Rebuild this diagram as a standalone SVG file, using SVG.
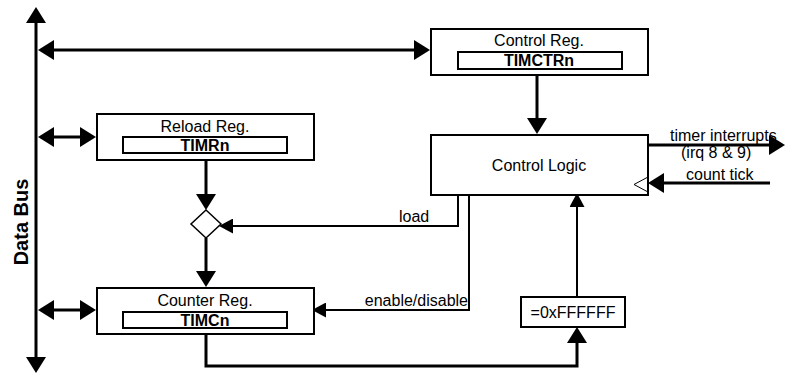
<svg xmlns="http://www.w3.org/2000/svg" width="786" height="375" viewBox="0 0 786 375">
<defs>
<marker id="big" markerUnits="userSpaceOnUse" markerWidth="16" markerHeight="20" refX="8" refY="10" orient="auto-start-reverse"><path d="M0,0 L16,10 L0,20 Z" fill="#000"/></marker>
<marker id="small" markerUnits="userSpaceOnUse" markerWidth="14" markerHeight="15" refX="6" refY="7.5" orient="auto-start-reverse"><path d="M0,0 L14,7.5 L0,15 Z" fill="#000"/></marker>
</defs>
<style>
.box{fill:#fff;stroke:#000;stroke-width:2}
.inner{fill:#fff;stroke:#000;stroke-width:2}
.thick{fill:none;stroke:#000;stroke-width:3}
.thin{fill:none;stroke:#000;stroke-width:2}
text{font-family:"Liberation Sans",Arial,sans-serif;font-size:16px;fill:#000}
.b{font-weight:bold}
.c{text-anchor:middle}
</style>
<g id="connectors">
<line class="thick" x1="36" y1="15" x2="36" y2="365" marker-start="url(#big)" marker-end="url(#big)"/>
<line class="thick" x1="46" y1="50" x2="422" y2="50" marker-start="url(#big)" marker-end="url(#big)"/>
<line class="thick" x1="46" y1="137" x2="88" y2="137" marker-start="url(#big)" marker-end="url(#big)"/>
<line class="thick" x1="46" y1="310" x2="88" y2="310" marker-start="url(#big)" marker-end="url(#big)"/>
<line class="thick" x1="537" y1="75" x2="537" y2="126" marker-end="url(#big)"/>
<line class="thick" x1="648" y1="145" x2="777" y2="145" marker-end="url(#big)"/>
<line class="thick" x1="770" y1="183" x2="656" y2="183" marker-end="url(#big)"/>
<line class="thick" x1="206" y1="160" x2="206" y2="202" marker-end="url(#big)"/>
<line class="thick" x1="206" y1="238" x2="206" y2="279" marker-end="url(#big)"/>
<path class="thin" d="M458,195 V226 H227" marker-end="url(#small)"/>
<path class="thin" d="M469,195 V310 H320" marker-end="url(#small)"/>
<line class="thin" x1="577" y1="296" x2="577" y2="201" marker-end="url(#small)"/>
<path class="thick" d="M206,334 V366 H577 V335" marker-end="url(#big)"/>
</g>
<g id="data-bus-label"><text class="b" font-size="20" style="font-size:20px" transform="translate(28,222) rotate(-90)" text-anchor="middle">Data Bus</text></g>
<g id="control-reg">
<rect class="box" x="431" y="29" width="217" height="46"/>
<text class="c" x="539" y="46">Control Reg.</text>
<rect class="inner" x="458" y="52" width="164" height="17"/>
<text class="c b" x="539" y="66">TIMCTRn</text>
</g>
<g id="control-logic">
<rect class="box" x="431" y="135" width="217" height="60"/>
<text class="c" x="539" y="171">Control Logic</text>
<polyline fill="none" stroke="#000" stroke-width="1" points="648,177 634,184.5 648,192"/>
</g>
<g id="reload-reg">
<rect class="box" x="97" y="114" width="217" height="46"/>
<text class="c" x="205" y="132">Reload Reg.</text>
<rect class="inner" x="123" y="137" width="164" height="16"/>
<text class="c b" x="205" y="151">TIMRn</text>
</g>
<g id="mux">
<polygon points="206,210 221,224 206,238 191,224" fill="#fff" stroke="#000" stroke-width="1.5"/>
</g>
<g id="counter-reg">
<rect class="box" x="97" y="288" width="217" height="46"/>
<text class="c" x="205" y="306">Counter Reg.</text>
<rect class="inner" x="123" y="312" width="164" height="16"/>
<text class="c b" x="205" y="326">TIMCn</text>
</g>
<g id="compare">
<rect class="box" x="521" y="297" width="104" height="30"/>
<text class="c" x="573" y="318">=0xFFFFFF</text>
</g>
<g id="labels">
<text x="670" y="141">timer interrupts</text>
<text x="681" y="158">(irq 8 &amp; 9)</text>
<text x="686" y="180">count tick</text>
<text x="399" y="222">load</text>
<text x="468" y="306" text-anchor="end">enable/disable</text>
</g>
</svg>
